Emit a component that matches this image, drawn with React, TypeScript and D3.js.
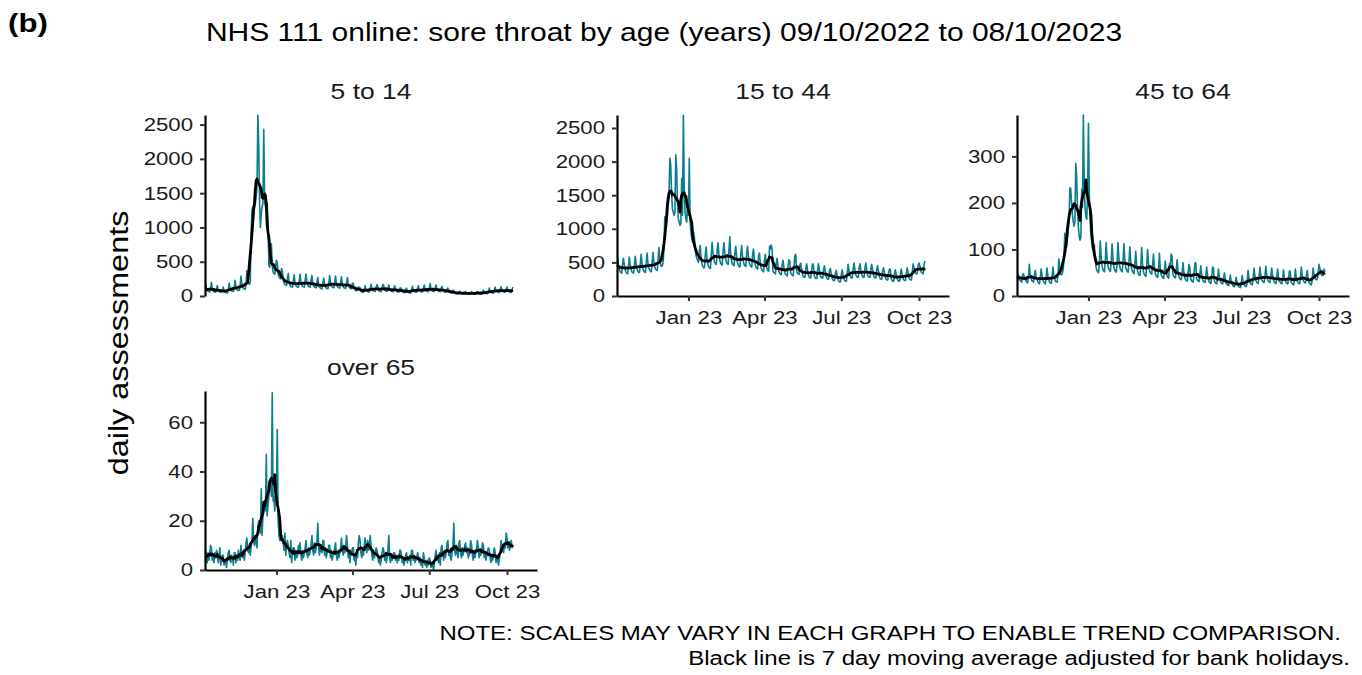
import React, { useEffect, useRef } from 'react';
import * as d3 from 'd3';

// first day of the series, one value per day from here
const startDate = new Date(2022, 9, 9);

const panelNames = ['5 to 14', '15 to 44', '45 to 64', 'over 65'];

const xTickDates = [new Date(2023, 0, 1), new Date(2023, 3, 1), new Date(2023, 6, 1), new Date(2023, 9, 1)];
const xTickLabels = ['Jan 23', 'Apr 23', 'Jul 23', 'Oct 23'];

const yTicks5to14 = [0, 500, 1000, 1500, 2000, 2500];
const yTicks15to44 = [0, 500, 1000, 1500, 2000, 2500];
const yTicks45to64 = [0, 100, 200, 300];
const yTicksOver65 = [0, 20, 40, 60];

// daily assessments, a row per week (Sun..Sat), last row is 08/10/2023
const age5to14 = [
  180, 120, 80, 70, 65, 60, 110,
  200, 110, 75, 65, 60, 55, 100,
  150, 90, 70, 60, 55, 55, 80,
  130, 80, 60, 50, 50, 45, 75,
  190, 120, 85, 75, 70, 65, 110,
  230, 140, 100, 85, 80, 80, 130,
  290, 170, 125, 110, 100, 100, 160,
  370, 240, 180, 170, 200, 900, 1250,
  1300, 1250, 1300, 1350, 1450, 1600, 2640,
  2200, 1400, 1000, 1200, 1300, 1350, 2430,
  1400, 1300, 1300, 1350, 1100, 450, 420,
  600, 760, 450, 350, 330, 320, 420,
  520, 480, 330, 280, 260, 250, 400,
  360, 240, 190, 170, 160, 155, 260,
  330, 200, 160, 140, 135, 130, 230,
  310, 190, 150, 135, 130, 125, 220,
  320, 195, 155, 140, 135, 130, 225,
  320, 200, 160, 140, 135, 130, 230,
  300, 185, 145, 130, 125, 120, 210,
  270, 165, 130, 115, 110, 105, 190,
  260, 165, 130, 115, 110, 105, 190,
  300, 190, 145, 130, 125, 120, 210,
  290, 180, 140, 125, 120, 115, 205,
  280, 175, 140, 120, 115, 110, 200,
  270, 165, 130, 115, 110, 105, 190,
  180, 115, 90, 80, 75, 100, 130,
  130, 120, 68, 60, 56, 54, 95,
  150, 95, 72, 64, 60, 58, 110,
  170, 110, 85, 75, 70, 68, 125,
  165, 140, 80, 70, 66, 64, 118,
  170, 150, 85, 75, 70, 68, 125,
  160, 100, 78, 68, 65, 62, 115,
  150, 95, 72, 64, 60, 58, 110,
  120, 100, 60, 52, 50, 48, 90,
  115, 72, 56, 48, 46, 44, 85,
  140, 88, 68, 60, 57, 55, 100,
  150, 95, 72, 64, 60, 58, 110,
  160, 100, 78, 68, 65, 62, 115,
  185, 105, 80, 70, 68, 65, 120,
  160, 100, 78, 68, 65, 62, 115,
  140, 88, 68, 60, 57, 55, 100,
  115, 72, 56, 48, 46, 44, 85,
  80, 50, 38, 34, 32, 31, 58,
  70, 45, 35, 30, 29, 28, 52,
  66, 42, 33, 29, 27, 26, 49,
  66, 42, 33, 29, 27, 26, 49,
  68, 60, 33, 29, 28, 27, 50,
  85, 55, 43, 38, 36, 35, 64,
  115, 72, 56, 48, 46, 44, 85,
  130, 82, 65, 57, 54, 52, 95,
  135, 86, 67, 59, 56, 54, 100,
  130, 82, 65, 57, 54, 52, 95,
  130
];

const age15to44 = [
  600, 480, 400, 370, 350, 340, 470,
  560, 470, 390, 360, 340, 330, 450,
  580, 460, 400, 360, 350, 340, 460,
  590, 480, 410, 370, 350, 350, 470,
  620, 490, 410, 380, 360, 350, 480,
  640, 500, 420, 390, 370, 360, 490,
  650, 520, 440, 400, 390, 380, 520,
  720, 560, 470, 440, 450, 500, 700,
  1180, 1050, 1100, 1200, 1350, 1500, 2050,
  1950, 1550, 1300, 1250, 1200, 1250, 2100,
  1900, 1400, 1150, 1100, 1050, 1080, 1750,
  1200, 2690, 1600, 1250, 1150, 1100, 1400,
  1200, 2050, 1100, 950, 850, 800, 950,
  880, 700, 600, 560, 520, 500, 680,
  750, 560, 480, 440, 420, 420, 620,
  730, 550, 470, 430, 420, 410, 600,
  800, 650, 560, 500, 480, 470, 680,
  790, 630, 540, 490, 470, 460, 660,
  790, 650, 550, 500, 480, 470, 690,
  880, 610, 520, 480, 460, 450, 650,
  740, 590, 500, 460, 440, 430, 620,
  750, 600, 510, 470, 450, 440, 640,
  740, 590, 500, 460, 440, 430, 620,
  700, 560, 470, 430, 410, 400, 590,
  640, 500, 420, 390, 370, 360, 540,
  620, 480, 410, 380, 370, 740, 700,
  760, 700, 380, 350, 340, 330, 490,
  560, 450, 370, 340, 320, 320, 470,
  530, 430, 350, 320, 310, 300, 450,
  540, 520, 350, 320, 310, 300, 440,
  600, 620, 380, 340, 330, 320, 470,
  490, 400, 320, 290, 280, 280, 410,
  480, 390, 310, 280, 270, 270, 400,
  480, 460, 300, 270, 260, 260, 390,
  480, 390, 310, 280, 270, 270, 400,
  450, 370, 290, 260, 250, 250, 380,
  410, 330, 270, 240, 230, 230, 340,
  380, 310, 250, 220, 210, 210, 320,
  390, 320, 260, 230, 220, 220, 330,
  470, 390, 310, 280, 270, 270, 400,
  490, 400, 320, 290, 280, 280, 410,
  480, 400, 330, 290, 280, 280, 420,
  490, 400, 320, 290, 280, 280, 410,
  470, 390, 310, 280, 270, 270, 400,
  450, 370, 290, 260, 250, 250, 380,
  420, 350, 280, 250, 240, 240, 350,
  400, 400, 260, 230, 220, 220, 340,
  390, 320, 260, 230, 220, 220, 330,
  400, 330, 270, 240, 230, 230, 340,
  420, 350, 280, 250, 240, 240, 350,
  480, 430, 360, 340, 330, 340, 460,
  490, 450, 380, 350, 340, 330, 470,
  520
];

const age45to64 = [
  52, 45, 38, 34, 32, 30, 44,
  48, 42, 36, 32, 30, 28, 42,
  68, 46, 38, 33, 31, 30, 45,
  55, 42, 36, 31, 28, 26, 40,
  58, 44, 35, 30, 28, 26, 42,
  60, 42, 35, 30, 28, 27, 42,
  62, 45, 37, 32, 30, 30, 46,
  80, 60, 48, 45, 48, 55, 78,
  135, 110, 105, 120, 140, 160, 232,
  232, 200, 175, 160, 150, 160, 285,
  260, 190, 150, 130, 120, 125, 230,
  190, 389, 240, 190, 170, 165, 220,
  371, 220, 160, 130, 115, 100, 110,
  110, 80, 62, 55, 52, 50, 72,
  118, 85, 66, 58, 54, 52, 78,
  115, 82, 65, 58, 55, 53, 76,
  112, 80, 63, 56, 53, 51, 74,
  115, 82, 64, 57, 54, 52, 76,
  112, 80, 63, 56, 53, 51, 74,
  106, 76, 60, 53, 50, 48, 70,
  96, 68, 55, 48, 45, 44, 64,
  104, 70, 54, 47, 44, 42, 62,
  100, 73, 58, 51, 48, 47, 68,
  90, 63, 50, 44, 41, 40, 58,
  92, 60, 47, 42, 39, 38, 55,
  75, 55, 44, 40, 38, 70, 68,
  90, 85, 48, 42, 40, 39, 55,
  78, 55, 43, 38, 36, 35, 52,
  72, 50, 40, 35, 33, 32, 48,
  68, 62, 38, 33, 31, 30, 45,
  70, 72, 39, 34, 32, 31, 47,
  65, 46, 36, 32, 30, 29, 43,
  62, 44, 35, 30, 28, 27, 41,
  62, 60, 34, 29, 27, 26, 40,
  58, 41, 33, 29, 27, 26, 39,
  50, 36, 28, 25, 23, 22, 34,
  45, 32, 26, 22, 21, 20, 30,
  40, 29, 23, 20, 19, 18, 27,
  44, 32, 26, 22, 21, 20, 30,
  55, 39, 31, 27, 25, 24, 37,
  60, 44, 35, 30, 28, 27, 41,
  62, 46, 36, 32, 30, 29, 43,
  64, 46, 36, 32, 30, 29, 43,
  60, 44, 35, 30, 28, 27, 41,
  58, 41, 33, 29, 27, 26, 39,
  56, 41, 33, 29, 27, 26, 39,
  54, 52, 31, 27, 25, 24, 37,
  58, 41, 33, 29, 27, 26, 39,
  62, 45, 35, 31, 29, 28, 42,
  55, 39, 31, 27, 25, 24, 37,
  60, 48, 40, 36, 35, 36, 50,
  68, 60, 50, 45, 44, 45, 58,
  52
];

const ageOver65 = [
  8, 5, 3, 7, 4, 6, 10,
  9, 4, 6, 3, 7, 5, 8,
  7, 3, 5, 9, 2, 4, 6,
  6, 2, 4, 3, 1, 5, 7,
  8, 4, 3, 6, 5, 2, 7,
  7, 3, 6, 4, 8, 5, 4,
  10, 6, 5, 8, 4, 7, 11,
  13, 8, 7, 10, 6, 9, 12,
  21, 12, 10, 14, 11, 9, 18,
  20, 17, 15, 33, 14, 22, 25,
  28, 24, 47, 22, 26, 30, 35,
  36, 30, 72, 28, 30, 24, 30,
  30, 57, 20, 14, 12, 13, 14,
  14, 11, 8, 15, 6, 10, 12,
  10, 7, 5, 12, 3, 8, 9,
  9, 4, 8, 5, 6, 10, 7,
  11, 6, 4, 8, 5, 7, 9,
  12, 7, 5, 9, 6, 8, 10,
  14, 8, 6, 11, 7, 9, 12,
  19, 9, 6, 10, 8, 7, 12,
  12, 6, 9, 5, 7, 8, 10,
  10, 5, 8, 4, 6, 7, 9,
  11, 6, 4, 8, 5, 7, 9,
  13, 8, 6, 10, 7, 9, 14,
  10, 5, 7, 3, 8, 6, 9,
  9, 4, 6, 2, 7, 5, 11,
  14, 12, 7, 5, 8, 6, 10,
  13, 9, 7, 12, 8, 10, 14,
  10, 6, 4, 8, 5, 7, 9,
  8, 6, 3, 5, 2, 4, 7,
  9, 8, 4, 6, 3, 5, 8,
  14, 5, 3, 6, 4, 5, 7,
  7, 4, 6, 3, 5, 4, 8,
  8, 6, 3, 5, 2, 4, 6,
  7, 3, 5, 4, 6, 2, 8,
  8, 4, 6, 3, 5, 4, 7,
  6, 3, 5, 2, 4, 1, 7,
  5, 2, 3, 1, 4, 2, 5,
  4, 1, 3, 2, 0, 3, 6,
  8, 4, 6, 3, 7, 2, 9,
  10, 6, 4, 8, 5, 7, 11,
  12, 6, 8, 5, 4, 7, 10,
  19, 8, 6, 10, 7, 5, 11,
  12, 7, 5, 9, 6, 8, 10,
  11, 7, 9, 5, 6, 8, 12,
  10, 6, 4, 8, 5, 7, 9,
  12, 9, 5, 7, 6, 8, 11,
  10, 5, 7, 4, 6, 8, 9,
  8, 5, 3, 6, 4, 7, 9,
  7, 3, 6, 4, 2, 5, 8,
  12, 8, 10, 7, 11, 9, 15,
  13, 9, 11, 8, 10, 12, 9,
  10
];

const panels = [
  { name: panelNames[0], values: age5to14, ticks: yTicks5to14, yMax: 2640, left: 205, top: 115, bottom: 296, xAxis: false },
  { name: panelNames[1], values: age15to44, ticks: yTicks15to44, yMax: 2693, left: 617, top: 115, bottom: 296, xAxis: true },
  { name: panelNames[2], values: age45to64, ticks: yTicks45to64, yMax: 389, left: 1017, top: 115, bottom: 296, xAxis: true },
  { name: panelNames[3], values: ageOver65, ticks: yTicksOver65, yMax: 72.7, left: 205, top: 391, bottom: 570, xAxis: true }
];

const panelWidth = 332;
const teal = '#0a7d90';
const font = '"Liberation Sans", Arial, sans-serif';

// centred 7 day mean
const movingAverage = (v: number[]) =>
  v.map((_, i) => d3.mean(v.slice(Math.max(0, i - 3), Math.min(v.length, i + 4))) as number);

const dayDate = (i: number) => d3.timeDay.offset(startDate, i);

const App = () => {
  const ref = useRef<SVGSVGElement>(null);

  useEffect(() => {
    const svg = d3.select(ref.current);
    svg.selectAll('*').remove();

    const x = d3
      .scaleTime()
      .domain([new Date(2022, 9, 8, 10), new Date(2023, 10, 5, 12)])
      .range([0, panelWidth]);

    panels.forEach((p) => {
      const h = p.bottom - p.top;
      const y = d3.scaleLinear().domain([0, p.yMax]).range([h, 0]);
      const g = svg.append('g').attr('transform', `translate(${p.left},${p.top})`);

      const line = d3
        .line<number>()
        .x((_, i) => x(dayDate(i)))
        .y((d) => y(d));

      g.append('path')
        .attr('d', line(p.values))
        .attr('fill', 'none')
        .attr('stroke', teal)
        .attr('stroke-width', 1.6)
        .attr('stroke-linejoin', 'round');

      g.append('path')
        .attr('d', line(movingAverage(p.values)))
        .attr('fill', 'none')
        .attr('stroke', '#000')
        .attr('stroke-width', 2.8)
        .attr('stroke-linejoin', 'round');

      const yAxis = g
        .append('g')
        .call(
          d3
            .axisLeft(y)
            .tickValues(p.ticks)
            .tickFormat(d3.format('d'))
            .tickSize(5)
            .tickSizeOuter(0)
            .tickPadding(7)
        );
      yAxis.select('.domain').attr('stroke', '#000').attr('stroke-width', 2.2);
      yAxis.selectAll('.tick line').attr('stroke', '#333').attr('stroke-width', 2);
      yAxis.selectAll('.tick text').attr('fill', '#1a1a1a').attr('font-size', 18.5).attr('font-family', font);

      if (p.xAxis) {
        const xAxis = g
          .append('g')
          .attr('transform', `translate(0,${h})`)
          .call(
            d3
              .axisBottom(x)
              .tickValues(xTickDates)
              .tickFormat((_, i) => xTickLabels[i])
              .tickSize(5)
              .tickSizeOuter(0)
              .tickPadding(10)
          );
        xAxis.select('.domain').attr('stroke', '#000').attr('stroke-width', 2.2);
        xAxis.selectAll('.tick line').attr('stroke', '#333').attr('stroke-width', 2);
        xAxis.selectAll('.tick text').attr('fill', '#1a1a1a').attr('font-size', 18.5).attr('font-family', font);
      }

      svg
        .append('text')
        .attr('x', p.left + panelWidth / 2)
        .attr('y', p.top - 16)
        .attr('text-anchor', 'middle')
        .attr('font-size', 22)
        .attr('font-family', font)
        .attr('fill', '#1a1a1a')
        .text(p.name);
    });

    svg
      .append('text')
      .attr('x', 8)
      .attr('y', 32)
      .attr('font-size', 26)
      .attr('font-weight', 'bold')
      .attr('font-family', font)
      .text('(b)');

    svg
      .append('text')
      .attr('x', 664)
      .attr('y', 41)
      .attr('text-anchor', 'middle')
      .attr('font-size', 25)
      .attr('font-family', font)
      .text('NHS 111 online: sore throat by age (years) 09/10/2022 to 08/10/2023');

    svg
      .append('text')
      .attr('transform', 'translate(128,343) rotate(-90)')
      .attr('text-anchor', 'middle')
      .attr('font-size', 27)
      .attr('font-family', font)
      .text('daily assessments');

    svg
      .append('text')
      .attr('x', 1341)
      .attr('y', 640)
      .attr('text-anchor', 'end')
      .attr('font-size', 20)
      .attr('font-family', font)
      .text('NOTE: SCALES MAY VARY IN EACH GRAPH TO ENABLE TREND COMPARISON.');

    svg
      .append('text')
      .attr('x', 1350)
      .attr('y', 665)
      .attr('text-anchor', 'end')
      .attr('font-size', 20)
      .attr('font-family', font)
      .text('Black line is 7 day moving average adjusted for bank holidays.');

    // the reference type is set wider than Arial, stretch every label
    svg.selectAll<SVGTextElement, unknown>('text').each(function () {
      const w = this.getComputedTextLength();
      if (w > 0) {
        this.setAttribute('textLength', String(w * 1.2));
        this.setAttribute('lengthAdjust', 'spacingAndGlyphs');
      }
    });
  }, []);

  return (
    <svg
      ref={ref}
      width={1362}
      height={675}
      style={{ position: 'absolute', left: 0, top: 0, background: '#fff' }}
    />
  );
};

export default App;
